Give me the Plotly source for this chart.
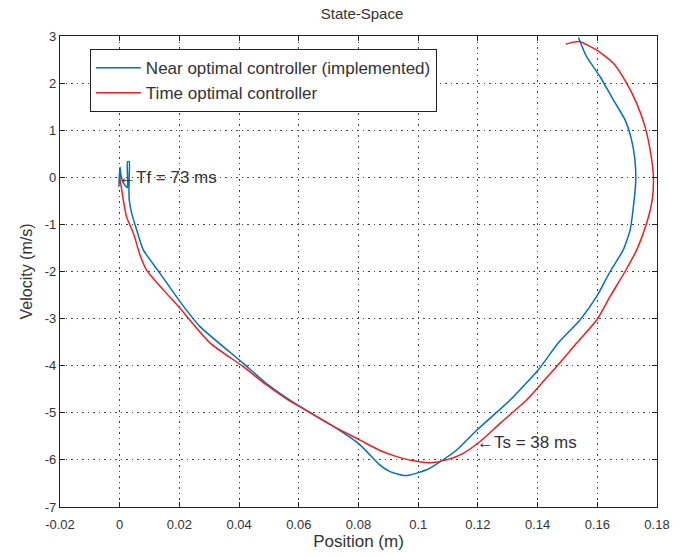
import plotly.graph_objects as go

# Near optimal controller (implemented) - position (m), velocity (m/s)
near_x = [0.1537, 0.1564, 0.1609, 0.1654, 0.1693, 0.1715, 0.1726, 0.1729, 0.1721, 0.1710,
          0.1687, 0.1643, 0.1598, 0.1542, 0.1469, 0.1402, 0.1308, 0.1196, 0.1129, 0.1073,
          0.1028, 0.0973, 0.0950, 0.0906, 0.0872, 0.0805, 0.0716, 0.0604, 0.0492, 0.0414,
          0.0269, 0.0202, 0.0135, 0.0079, 0.0057, 0.0040, 0.0032, 0.0031, 0.0032, 0.0032,
          0.0026, 0.0026, 0.0012, 0.0004, 0.0001, -0.0003, 0.0002, 0.0000]
near_v = [2.97, 2.56, 2.14, 1.64, 1.22, 0.79, 0.37, -0.06, -0.62, -1.12,
          -1.54, -2.00, -2.53, -3.03, -3.52, -4.09, -4.73, -5.37, -5.79, -6.04,
          -6.21, -6.32, -6.33, -6.25, -6.11, -5.68, -5.29, -4.87, -4.38, -3.95,
          -3.17, -2.64, -2.04, -1.54, -1.12, -0.76, -0.48, -0.25, 0.05, 0.33,
          0.33, -0.22, -0.12, 0.05, 0.22, -0.20, 0.10, 0.00]

# Time optimal controller
opt_x = [0.1495, 0.1520, 0.1542, 0.1598, 0.1654, 0.1698, 0.1732, 0.1760, 0.1779, 0.1788,
         0.1784, 0.1765, 0.1732, 0.1693, 0.1643, 0.1598, 0.1531, 0.1469, 0.1424, 0.1363,
         0.1275, 0.1207, 0.1151, 0.1095, 0.1040, 0.0984, 0.0928, 0.0872, 0.0805,
         0.0716, 0.0604, 0.0565, 0.0492, 0.0414, 0.0303, 0.0202, 0.0146, 0.0090, 0.0068,
         0.0046, 0.0023, 0.0012, 0.0007, 0.0000]
opt_v = [2.83, 2.87, 2.88, 2.70, 2.42, 2.00, 1.57, 1.07, 0.51, 0.01,
         -0.48, -0.98, -1.54, -2.00, -2.53, -3.03, -3.52, -3.98, -4.30, -4.73,
         -5.22, -5.61, -5.86, -6.00, -6.06, -6.02, -5.93, -5.80, -5.58,
         -5.29, -4.87, -4.73, -4.41, -4.02, -3.52, -2.78, -2.39, -1.97, -1.65,
         -1.19, -0.84, -0.48, -0.27, 0.00]

x_ticks = [-0.02, 0, 0.02, 0.04, 0.06, 0.08, 0.1, 0.12, 0.14, 0.16, 0.18]
x_tick_labels = ["-0.02", "0", "0.02", "0.04", "0.06", "0.08", "0.1", "0.12", "0.14", "0.16", "0.18"]
y_ticks = [-7, -6, -5, -4, -3, -2, -1, 0, 1, 2, 3]
y_tick_labels = ["-7", "-6", "-5", "-4", "-3", "-2", "-1", "0", "1", "2", "3"]

series_names = ["Near optimal controller (implemented)", "Time optimal controller"]
ann_points = [(0.0, 0.0, "\u2190Tf = 73 ms"), (0.1201, -5.62, "\u2190Ts = 38 ms")]

FONT = "Liberation Sans, Arial, sans-serif"
TXT = "#333333"

fig = go.Figure()
fig.add_trace(go.Scatter(x=near_x, y=near_v, mode="lines", name=series_names[0],
                         line=dict(color="rgb(0,114,189)", width=1.5, shape="spline", smoothing=0.5)))
fig.add_trace(go.Scatter(x=opt_x, y=opt_v, mode="lines", name=series_names[1],
                         line=dict(color="rgb(240,30,30)", width=1.5, shape="spline", smoothing=0.6)))

for ax_, ay_, t in ann_points:
    fig.add_annotation(x=ax_, y=ay_, text=t, showarrow=False, xanchor="left", yanchor="middle",
                       xshift=-3, font=dict(family=FONT, size=17, color=TXT))

axis_common = dict(showline=True, linecolor="#222222", linewidth=1.2, mirror="ticks",
                   ticks="inside", ticklen=5, tickcolor="#222222", automargin=False,
                   showgrid=True, gridcolor="#444444", griddash="1.5px,4px", gridwidth=1.3,
                   zeroline=False, tickfont=dict(family=FONT, size=13, color=TXT))

fig.update_xaxes(range=[-0.02, 0.18], tickvals=x_ticks, ticktext=x_tick_labels,
                 ticklabelstandoff=5,
                 title=dict(text="Position (m)", font=dict(family=FONT, size=17, color=TXT), standoff=1),
                 **axis_common)
fig.update_yaxes(range=[-7, 3], tickvals=y_ticks, ticktext=y_tick_labels,
                 title=dict(text="Velocity (m/s)", font=dict(family=FONT, size=16, color=TXT), standoff=8),
                 **axis_common)

fig.update_layout(
    width=683, height=556,
    margin=dict(l=60, r=26, t=36, b=49),
    paper_bgcolor="white", plot_bgcolor="white",
    title=dict(text="State-Space", x=0.53, xanchor="center", y=0.975, yanchor="middle",
               font=dict(family=FONT, size=15, color=TXT)),
    legend=dict(x=0.05, y=0.972, xanchor="left", yanchor="top",
                bgcolor="white", bordercolor="#222222", borderwidth=1, itemwidth=45,
                font=dict(family=FONT, size=17, color=TXT), tracegroupgap=0),
    showlegend=True,
)

fig.write_html("out.html")
